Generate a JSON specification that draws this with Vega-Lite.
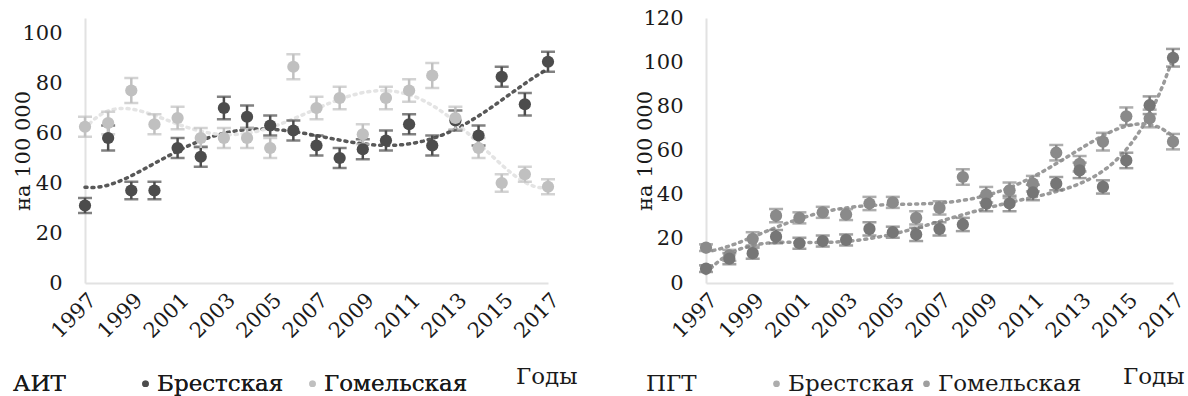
{
  "$schema": "https://vega.github.io/schema/vega-lite/v6.json",
  "background": "white",
  "padding": {"left": 12, "top": 7, "right": 0, "bottom": 0},
  "spacing": 57,
  "resolve": {"scale": {"color": "independent"}, "legend": {"color": "independent"}},
  "config": {
    "font": "DejaVu Serif",
    "view": {"stroke": null},
    "axis": {
      "labelFont": "DejaVu Serif", "labelFontSize": 21, "labelColor": "#1a1a1a",
      "titleFont": "DejaVu Serif", "titleFontSize": 21, "titleFontWeight": "normal", "titleColor": "#1a1a1a",
      "grid": false, "ticks": false, "domainColor": "#e2e2e2", "domainWidth": 2, "labelOverlap": false
    },
    "axisX": {"titleFontSize": 23},
    "legend": {
      "labelFont": "DejaVu Serif", "labelFontSize": 23, "labelColor": "#1a1a1a",
      "titleFont": "DejaVu Serif", "titleFontSize": 23, "titleFontWeight": "normal", "titleColor": "#1a1a1a",
      "titleOrient": "left", "titleBaseline": "middle",
      "symbolType": "circle", "symbolSize": 45, "symbolStrokeWidth": 0, "labelOffset": 0
    }
  },
  "datasets": {
    "ait": [
      {"year": 1997, "region": "Брестская", "value": 31, "err": 3},
      {"year": 1998, "region": "Брестская", "value": 58, "err": 5},
      {"year": 1999, "region": "Брестская", "value": 37, "err": 3.5},
      {"year": 2000, "region": "Брестская", "value": 37, "err": 3.5},
      {"year": 2001, "region": "Брестская", "value": 54, "err": 4},
      {"year": 2002, "region": "Брестская", "value": 50.5, "err": 4},
      {"year": 2003, "region": "Брестская", "value": 70, "err": 4.5},
      {"year": 2004, "region": "Брестская", "value": 66.5, "err": 4.5},
      {"year": 2005, "region": "Брестская", "value": 63, "err": 4},
      {"year": 2006, "region": "Брестская", "value": 61, "err": 4},
      {"year": 2007, "region": "Брестская", "value": 55, "err": 4},
      {"year": 2008, "region": "Брестская", "value": 50, "err": 4},
      {"year": 2009, "region": "Брестская", "value": 53.5, "err": 4},
      {"year": 2010, "region": "Брестская", "value": 57, "err": 4},
      {"year": 2011, "region": "Брестская", "value": 63.5, "err": 4},
      {"year": 2012, "region": "Брестская", "value": 55, "err": 4},
      {"year": 2013, "region": "Брестская", "value": 65, "err": 4},
      {"year": 2014, "region": "Брестская", "value": 59, "err": 4},
      {"year": 2015, "region": "Брестская", "value": 82.5, "err": 4},
      {"year": 2016, "region": "Брестская", "value": 71.5, "err": 4.5},
      {"year": 2017, "region": "Брестская", "value": 88.5, "err": 4},
      {"year": 1997, "region": "Гомельская", "value": 62.5, "err": 4},
      {"year": 1998, "region": "Гомельская", "value": 64, "err": 4.5},
      {"year": 1999, "region": "Гомельская", "value": 77, "err": 5},
      {"year": 2000, "region": "Гомельская", "value": 63.5, "err": 4},
      {"year": 2001, "region": "Гомельская", "value": 66, "err": 4.5},
      {"year": 2002, "region": "Гомельская", "value": 58, "err": 4},
      {"year": 2003, "region": "Гомельская", "value": 58, "err": 4},
      {"year": 2004, "region": "Гомельская", "value": 58, "err": 4},
      {"year": 2005, "region": "Гомельская", "value": 54, "err": 4},
      {"year": 2006, "region": "Гомельская", "value": 86.5, "err": 5},
      {"year": 2007, "region": "Гомельская", "value": 70, "err": 4.5},
      {"year": 2008, "region": "Гомельская", "value": 74, "err": 4.5},
      {"year": 2009, "region": "Гомельская", "value": 59.5, "err": 4},
      {"year": 2010, "region": "Гомельская", "value": 74, "err": 4.5},
      {"year": 2011, "region": "Гомельская", "value": 77, "err": 4.5},
      {"year": 2012, "region": "Гомельская", "value": 83, "err": 5},
      {"year": 2013, "region": "Гомельская", "value": 66, "err": 4.5},
      {"year": 2014, "region": "Гомельская", "value": 54, "err": 4},
      {"year": 2015, "region": "Гомельская", "value": 40, "err": 3.5},
      {"year": 2016, "region": "Гомельская", "value": 43.5, "err": 3},
      {"year": 2017, "region": "Гомельская", "value": 38.5, "err": 3}
    ],
    "pgt": [
      {"year": 1997, "region": "Брестская", "value": 16, "err": 1.5},
      {"year": 1998, "region": "Брестская", "value": 12.5, "err": 2.5},
      {"year": 1999, "region": "Брестская", "value": 20, "err": 3},
      {"year": 2000, "region": "Брестская", "value": 30.5, "err": 3},
      {"year": 2001, "region": "Брестская", "value": 29.5, "err": 2.5},
      {"year": 2002, "region": "Брестская", "value": 32, "err": 2.5},
      {"year": 2003, "region": "Брестская", "value": 31, "err": 2.5},
      {"year": 2004, "region": "Брестская", "value": 36, "err": 3},
      {"year": 2005, "region": "Брестская", "value": 36.5, "err": 2.5},
      {"year": 2006, "region": "Брестская", "value": 29.5, "err": 3},
      {"year": 2007, "region": "Брестская", "value": 34, "err": 3},
      {"year": 2008, "region": "Брестская", "value": 48, "err": 3.5},
      {"year": 2009, "region": "Брестская", "value": 40, "err": 3.5},
      {"year": 2010, "region": "Брестская", "value": 42, "err": 3.5},
      {"year": 2011, "region": "Брестская", "value": 45, "err": 3.5},
      {"year": 2012, "region": "Брестская", "value": 59, "err": 3.5},
      {"year": 2013, "region": "Брестская", "value": 54, "err": 3.5},
      {"year": 2014, "region": "Брестская", "value": 64, "err": 4},
      {"year": 2015, "region": "Брестская", "value": 75.5, "err": 4},
      {"year": 2016, "region": "Брестская", "value": 74.5, "err": 4},
      {"year": 2017, "region": "Брестская", "value": 64, "err": 3.5},
      {"year": 1997, "region": "Гомельская", "value": 6.5, "err": 1.5},
      {"year": 1998, "region": "Гомельская", "value": 11, "err": 2.5},
      {"year": 1999, "region": "Гомельская", "value": 13.5, "err": 2.5},
      {"year": 2000, "region": "Гомельская", "value": 21, "err": 3},
      {"year": 2001, "region": "Гомельская", "value": 18, "err": 2.5},
      {"year": 2002, "region": "Гомельская", "value": 19, "err": 2.5},
      {"year": 2003, "region": "Гомельская", "value": 19.5, "err": 2.5},
      {"year": 2004, "region": "Гомельская", "value": 24.5, "err": 3},
      {"year": 2005, "region": "Гомельская", "value": 23, "err": 2.5},
      {"year": 2006, "region": "Гомельская", "value": 22, "err": 3},
      {"year": 2007, "region": "Гомельская", "value": 24.5, "err": 3},
      {"year": 2008, "region": "Гомельская", "value": 26.5, "err": 3},
      {"year": 2009, "region": "Гомельская", "value": 36, "err": 3.5},
      {"year": 2010, "region": "Гомельская", "value": 36, "err": 3.5},
      {"year": 2011, "region": "Гомельская", "value": 41, "err": 3.5},
      {"year": 2012, "region": "Гомельская", "value": 45, "err": 3},
      {"year": 2013, "region": "Гомельская", "value": 51, "err": 3.5},
      {"year": 2014, "region": "Гомельская", "value": 43.5, "err": 3},
      {"year": 2015, "region": "Гомельская", "value": 55.5, "err": 3.5},
      {"year": 2016, "region": "Гомельская", "value": 80.5, "err": 4},
      {"year": 2017, "region": "Гомельская", "value": 102, "err": 4}
    ]
  },
  "hconcat": [
    {
      "width": 463,
      "height": 265,
      "data": {"name": "ait"},
      "encoding": {
        "x": {
          "field": "year", "type": "quantitative",
          "scale": {"domain": [1997, 2017], "nice": false, "zero": false},
          "axis": {"values": [1997, 1999, 2001, 2003, 2005, 2007, 2009, 2011, 2013, 2015, 2017], "format": "d", "labelAngle": -45, "labelPadding": 6, "title": "Годы", "titleAnchor": "end", "titleAlign": "right", "titleX": 492, "titlePadding": 24}
        },
        "color": {
          "field": "region", "type": "nominal",
          "scale": {"domain": ["Брестская", "Гомельская"], "range": ["#4c4c4c", "#c0c0c0"]},
          "legend": {"orient": "none", "legendX": -72, "legendY": 354, "direction": "horizontal", "title": "АИТ", "titlePadding": 68, "columnPadding": 17}
        }
      },
      "layer": [
        {
          "transform": [{"regression": "value", "on": "year", "groupby": ["region"], "method": "poly", "order": 5}],
          "mark": {"type": "line", "strokeDash": [2, 5], "strokeWidth": 3.5, "strokeCap": "round"},
          "encoding": {
            "y": {"field": "value", "type": "quantitative"},
            "color": {"field": "region", "type": "nominal", "scale": {"domain": ["Брестская", "Гомельская"], "range": ["#585858", "#e4e4e4"]}, "legend": null}
          }
        },
        {
          "mark": {"type": "errorbar", "ticks": {"size": 14}, "thickness": 2.5},
          "encoding": {
            "y": {
              "field": "value", "type": "quantitative",
              "scale": {"domain": [0, 106], "nice": false},
              "axis": {"values": [0, 20, 40, 60, 80, 100], "title": "на 100 000", "labelPadding": 23, "titlePadding": -12}
            },
            "yError": {"field": "err"}
          }
        },
        {
          "mark": {"type": "point", "filled": true, "size": 150, "opacity": 1, "shape": "circle"},
          "encoding": {"y": {"field": "value", "type": "quantitative"}}
        }
      ],
      "resolve": {"scale": {"color": "independent"}}
    },
    {
      "width": 467,
      "height": 265,
      "data": {"name": "pgt"},
      "encoding": {
        "x": {
          "field": "year", "type": "quantitative",
          "scale": {"domain": [1997, 2017], "nice": false, "zero": false},
          "axis": {"values": [1997, 1999, 2001, 2003, 2005, 2007, 2009, 2011, 2013, 2015, 2017], "format": "d", "labelAngle": -45, "labelPadding": 6, "title": "Годы", "titleAnchor": "end", "titleAlign": "right", "titleX": 478, "titlePadding": 24}
        },
        "color": {
          "field": "region", "type": "nominal",
          "scale": {"domain": ["Брестская", "Гомельская"], "range": ["#8a8a8a", "#767676"]},
          "legend": {"orient": "none", "legendX": -60, "legendY": 354, "direction": "horizontal", "title": "ПГТ", "titlePadding": 68, "columnPadding": -10}
        }
      },
      "layer": [
        {
          "transform": [{"regression": "value", "on": "year", "groupby": ["region"], "method": "poly", "order": 5}],
          "mark": {"type": "line", "strokeDash": [2, 5], "strokeWidth": 3.5, "strokeCap": "round"},
          "encoding": {"y": {"field": "value", "type": "quantitative"}, "detail": {"field": "region"}, "color": {"value": "#9a9a9a"}}
        },
        {
          "mark": {"type": "errorbar", "ticks": {"size": 14}, "thickness": 2.5},
          "encoding": {
            "y": {
              "field": "value", "type": "quantitative",
              "scale": {"domain": [0, 120], "nice": false},
              "axis": {"values": [0, 20, 40, 60, 80, 100, 120], "title": "на 100 000", "labelPadding": 23, "titlePadding": -13}
            },
            "yError": {"field": "err"}
          }
        },
        {
          "mark": {"type": "point", "filled": true, "size": 150, "opacity": 1, "shape": "circle"},
          "encoding": {"y": {"field": "value", "type": "quantitative"}}
        }
      ]
    }
  ]
}
